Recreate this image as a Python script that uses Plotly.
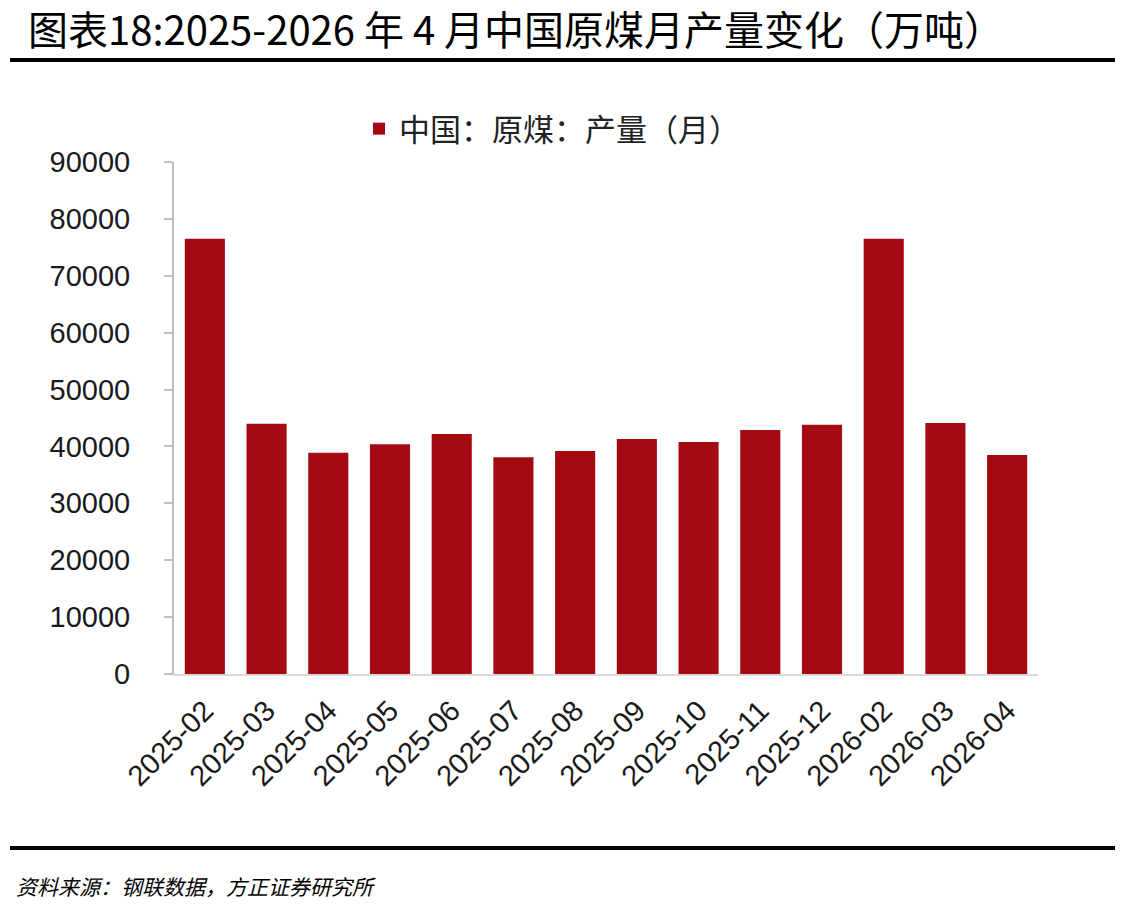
import plotly.graph_objects as go

categories = ["2025-02", "2025-03", "2025-04", "2025-05", "2025-06", "2025-07", "2025-08",
              "2025-09", "2025-10", "2025-11", "2025-12", "2026-02", "2026-03", "2026-04"]
production = [76500, 44000, 38900, 40400, 42200, 38100, 39200,
              41300, 40800, 42900, 43800, 76500, 44100, 38500]
series_name = "中国：原煤：产量（月）"
title_text = "图表18:2025-2026 年 4 月中国原煤月产量变化（万吨）"
source_text = "资料来源：钢联数据，方正证券研究所"
y_ticks = [0, 10000, 20000, 30000, 40000, 50000, 60000, 70000, 80000, 90000]

W, H = 1130, 919
L, R, T, B = 174, 92, 162, 245
pw, ph = W - L - R, H - T - B

def px(x):
    return (x - L) / pw

def py(y):
    return (H - B - y) / ph

fig = go.Figure()
fig.add_trace(go.Bar(
    x=categories, y=production, name=series_name,
    marker=dict(color="#A50A12", line=dict(width=0)),
    showlegend=True,
))

cjk = "Noto Sans CJK SC"
fig.update_layout(
    width=W, height=H,
    margin=dict(l=L, r=R, t=T, b=B, pad=0),
    paper_bgcolor="white", plot_bgcolor="white",
    bargap=0.35,
    showlegend=True,
    legend=dict(
        orientation="h", x=px(552), xanchor="center", y=py(102), yanchor="top",
        font=dict(family=cjk, size=31, color="#222222"),
        bgcolor="rgba(0,0,0,0)",
    ),
    xaxis=dict(
        type="category", tickangle=-45, showgrid=False, zeroline=False,
        showline=True, linecolor="#D9D9D9", linewidth=2, ticks="",
        tickfont=dict(family="Liberation Sans", size=29, color="#1a1a1a"),
        ticklabelstandoff=6,
    ),
    yaxis=dict(
        range=[0, 90000], tickvals=y_ticks, ticktext=[str(v) for v in y_ticks],
        showgrid=False, zeroline=False,
        showline=True, linecolor="#BFBFBF", linewidth=2,
        ticks="outside", ticklen=8, tickcolor="#BFBFBF", tickwidth=2,
        tickfont=dict(family="Liberation Sans", size=29, color="#1a1a1a"),
        ticklabelstandoff=28,
    ),
    shapes=[
        dict(type="line", xref="paper", yref="paper", x0=px(10), x1=px(1115), y0=py(60), y1=py(60),
             line=dict(color="black", width=4)),
        dict(type="line", xref="paper", yref="paper", x0=px(10), x1=px(1115), y0=py(848), y1=py(848),
             line=dict(color="black", width=4)),
    ],
    annotations=[
        dict(text=title_text, xref="paper", yref="paper", x=px(26), y=py(28), xanchor="left", yanchor="middle",
             showarrow=False, font=dict(family=cjk, size=40, color="black")),
        dict(text="<i>" + source_text + "</i>", xref="paper", yref="paper", x=px(14), y=py(886),
             xanchor="left", yanchor="middle", showarrow=False,
             font=dict(family=cjk, size=21, color="black")),
    ],
)

fig.write_html("out.html")
